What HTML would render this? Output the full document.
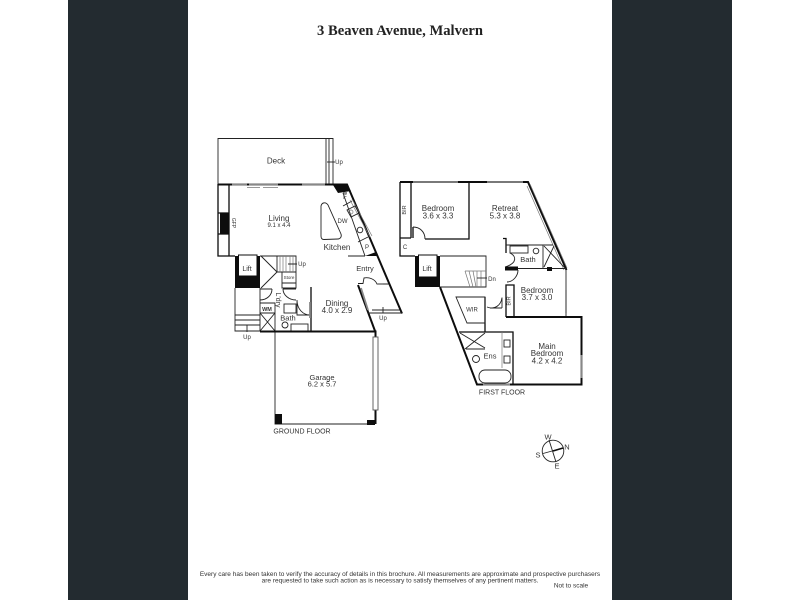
<!DOCTYPE html>
<html><head><meta charset="utf-8"><style>
html,body{margin:0;padding:0;background:#fff}
svg{display:block}
text{font-family:"Liberation Sans",sans-serif;fill:#333;text-anchor:middle}
.t{font-family:"Liberation Serif",serif;font-weight:bold;fill:#222}
.w{stroke:#222;fill:none;stroke-width:.9}
.m{stroke:#111;fill:none;stroke-width:1.3}
.h{stroke:#111;fill:none;stroke-width:2}
.g{stroke:#777;fill:none;stroke-width:.7}
.f{fill:#111}
.d{stroke:#888;stroke-width:1.8;fill:none}
</style></head><body>
<svg width="800" height="600" viewBox="0 0 800 600" xmlns="http://www.w3.org/2000/svg">
<defs><filter id="b" x="0" y="0" width="100%" height="100%"><feGaussianBlur stdDeviation="0.3"/></filter></defs>
<rect width="800" height="600" fill="#fff"/>
<rect x="68" width="120" height="600" fill="#232b30"/>
<rect x="612" width="120" height="600" fill="#232b30"/>
<g filter="url(#b)">
<text class="t" x="400" y="35" font-size="14.6">3 Beaven Avenue, Malvern</text>

<!-- GROUND: deck -->
<path class="w" d="M218 184V138.500H333V184M326 138.500V184M329 138.500V184"/>
<path class="w" d="M327 162h8"/>
<text x="339" y="164" font-size="6">Up</text>
<text x="276" y="163.500" font-size="8">Deck</text>
<!-- living -->
<path class="m" d="M218 184V256H235M229 185V256M218 213H229M218 234H229"/>
<path class="h" d="M218 184.500H347L402 313.500"/>
<rect class="f" x="220" y="213" width="9" height="21"/>
<path class="d" d="M232 184.500H247M249 184.500H278M302 184.500H325"/>
<path class="g" d="M247 187.500H260M263 187.500H278"/>
<polygon class="f" points="333,185 346,185 351,191 338,193"/>
<polygon class="f" points="365,256 376,252 378,256"/>
<!-- kitchen -->
<path class="w" d="M343 193H347M343 193L365 256M343 206L352 201M358 242L368 237M348 256H365"/>
<path class="g" d="M350 200L370 237M352 199L372 236"/>
<path class="w" d="M347 210l8-4 4 7-8 4z"/>
<circle class="w" cx="360" cy="230" r="2.800"/>
<circle class="g" cx="351" cy="212" r="2"/>
<text x="345" y="199" font-size="6">F</text>
<text x="342.500" y="223" font-size="6">DW</text>
<text x="367" y="249" font-size="6">P</text>
<path class="w" d="M321 236L321 206C322 202 326 202 328 205L341 234C342 237 340 239 338 239L324 239.500C322 239.500 321 238 321 236Z"/>
<text x="279" y="221" font-size="8">Living</text>
<text x="279" y="227" font-size="6">9.1 x 4.4</text>
<text transform="translate(232 223) rotate(90)" font-size="5">GFP</text>
<text x="337" y="250" font-size="8">Kitchen</text>
<text x="365" y="271" font-size="7.500">Entry</text>

<!-- lift ground -->
<rect class="f" x="235" y="256" width="25" height="32"/>
<rect x="238.500" y="255" width="18.500" height="21" fill="#fff" stroke="#111"/>
<text x="247" y="271" font-size="7">Lift</text>
<!-- stairs -->
<path class="w" d="M260 256H296V272M261 256L277 272M261 288L277 272M277 256V272H296"/>
<path class="g" d="M280 256V272M283 256V272M286 256V272M290 256V272M293 256V272"/>
<path class="w" d="M282 272V288H296V272M282 283H296M288 264H297"/>
<text x="302" y="266" font-size="6">Up</text>
<text x="289" y="279" font-size="4.500">Store</text>
<!-- laundry/bath -->
<path class="w" d="M235 288V331H260M260 288V331M235 315H260M235 320H260M235 325H260"/>
<path class="w" d="M260 289H272M260 300C267 300 272 295 272 289M283 289H296M283 289C283 295 289 300 296 300"/>
<path class="w" d="M260 303H275V331M260 313H275M260 313L275 331M275 313L260 331"/>
<path class="w" d="M297 300V315H310M297 300C297 309 303 315 310 315"/>
<path class="m" d="M311 287V331"/>
<path class="d" d="M310 302V318"/>
<rect class="w" x="284" y="304" width="12" height="9"/>
<rect class="w" x="291" y="324" width="17" height="7"/>
<circle class="w" cx="285" cy="325" r="3"/>
<text x="267" y="311" font-size="5.500" font-weight="bold">WM</text>
<text transform="translate(276 300) rotate(90)" font-size="7">L'dry</text>
<text x="288" y="320.500" font-size="7.500">Bath</text>
<path class="w" d="M247 325V332"/>
<text x="247" y="339" font-size="6">Up</text>
<text x="337" y="306" font-size="8">Dining</text>
<text x="337" y="313" font-size="8">4.0 x 2.9</text>
<!-- garage -->
<path class="w" d="M275 331V424H375"/>
<path class="h" d="M260 331.500H375.500V337M375.500 410V424"/>
<rect x="373" y="337" width="5" height="73" fill="#fff" stroke="#555" stroke-width=".9"/>
<rect class="f" x="275" y="414" width="7" height="10"/>
<rect class="f" x="367" y="420" width="8" height="5"/>
<!-- entry -->
<path class="h" d="M358 285L375 331"/>
<path class="w" d="M358 283.500H363L364 278C369 277 375 279 377 284H389"/>
<path class="d" d="M361 288L368 310M377 284H383"/>
<path class="w" d="M372 310H400M368 313H402M383 307V313"/>
<text x="383" y="320" font-size="6">Up</text>
<text x="322" y="380" font-size="7.500">Garage</text>
<text x="322" y="386.500" font-size="7.500">6.2 x 5.7</text>
<text x="302" y="433.500" font-size="7">GROUND FLOOR</text>

<!-- FIRST -->
<path class="h" d="M400 182H528L566.500 270"/>
<path class="d" d="M413 182H458M487 182H523"/>
<path class="g" d="M530 184L567 268M527 186L564 270"/>
<path class="m" d="M400 182V256H415M411 182V238M400 238H411"/>
<path class="m" d="M469 182V239H425M413 227V238"/>
<path class="w" d="M413 227C420 227 425 232 425 239"/>
<rect class="f" x="415" y="256" width="25" height="31"/>
<rect x="418.500" y="255" width="18.500" height="22" fill="#fff" stroke="#111"/>
<text x="427" y="271" font-size="7">Lift</text>
<text transform="translate(406 210) rotate(-90)" font-size="5.500">BIR</text>
<text x="405" y="249" font-size="6">C</text>
<text x="438" y="211" font-size="8">Bedroom</text>
<text x="438" y="218.500" font-size="8">3.6 x 3.3</text>
<text x="505" y="211" font-size="8">Retreat</text>
<text x="505" y="218.500" font-size="8">5.3 x 3.8</text>
<!-- stairs first -->
<path class="w" d="M440 256H486V287H440"/>
<path class="g" d="M465 271H486M465 271L470 287M469 271L473 287M473 271L476 287M477 271V287M481 271V287"/>
<path class="w" d="M477 278H487"/>
<text x="492" y="281" font-size="6">Dn</text>
<!-- bath first -->
<path class="m" d="M503 238.500H506V253"/>
<path class="w" d="M506 245H553M510 253C516 256 518 263 505 267"/>
<path class="h" d="M505 267.500H518M505 269.500H518"/>
<path class="w" d="M518 268.500H566M518 270C518 276 513 282 507 282"/>
<rect class="f" x="547" y="267" width="5" height="4"/>
<rect class="w" x="510" y="246" width="18" height="7"/>
<circle class="w" cx="536" cy="251" r="2.800"/>
<path class="w" d="M543 245V268M544 246L565 268M544 267L554 246"/>
<text x="528" y="262" font-size="7.500">Bath</text>
<path class="m" d="M506 317V285H514V317"/>
<text transform="translate(510.500 301) rotate(-90)" font-size="5.500">BIR</text>
<text x="537" y="293" font-size="8">Bedroom</text>
<text x="537" y="300" font-size="8">3.7 x 3.0</text>
<path class="w" d="M566 270V317"/>
<path class="d" d="M566 290V313"/>
<!-- main -->
<path class="h" d="M506 317H581.500V384.500H477L440 287"/>
<path class="d" d="M581.500 355V378"/>
<path class="m" d="M485 297V332H459M485 332H513V384"/>
<path class="w" d="M502 297.500V308M487 307C494 310 501 306 502 297.500M490 308H502"/>
<polygon class="w" points="456,297 485,297 485,323 467,323"/>
<text x="472" y="311.500" font-size="6">WIR</text>
<path class="w" d="M460 333L485 348M485 333L465 349M466 349H485"/>
<path class="g" d="M502 332V368"/>
<rect class="w" x="504" y="340" width="6" height="7"/>
<rect class="w" x="504" y="356" width="6" height="7"/>
<circle class="w" cx="476" cy="359" r="3.500"/>
<rect class="w" x="479" y="370" width="32" height="13" rx="6"/>
<text x="490" y="358.500" font-size="7.500">Ens</text>
<path class="d" d="M483 384.500H510"/>
<text x="547" y="349" font-size="8">Main</text>
<text x="547" y="356" font-size="8">Bedroom</text>
<text x="547" y="363.500" font-size="8">4.2 x 4.2</text>
<text x="502" y="394.500" font-size="7">FIRST FLOOR</text>

<!-- compass -->
<circle cx="553" cy="451" r="10.800" class="w"/>
<path class="w" d="M543 453.500L563 448M549 440L556 462"/>
<path d="M553 451L563 448" stroke="#111" stroke-width="1.500"/>
<text x="548" y="439.500" font-size="7.500">W</text>
<text x="567" y="449.500" font-size="7.500">N</text>
<text x="538" y="457.500" font-size="7.500">S</text>
<text x="557" y="468.500" font-size="7.500">E</text>

<text x="400" y="576" font-size="6.500">Every care has been taken to verify the accuracy of details in this brochure.  All measurements are approximate and prospective purchasers</text>
<text x="400" y="582.300" font-size="6.500">are requested to take such action as is necessary to satisfy themselves of any pertinent matters.</text>
<text x="571" y="587.500" font-size="6.500">Not to scale</text>
</g>
</svg>
</body></html>
